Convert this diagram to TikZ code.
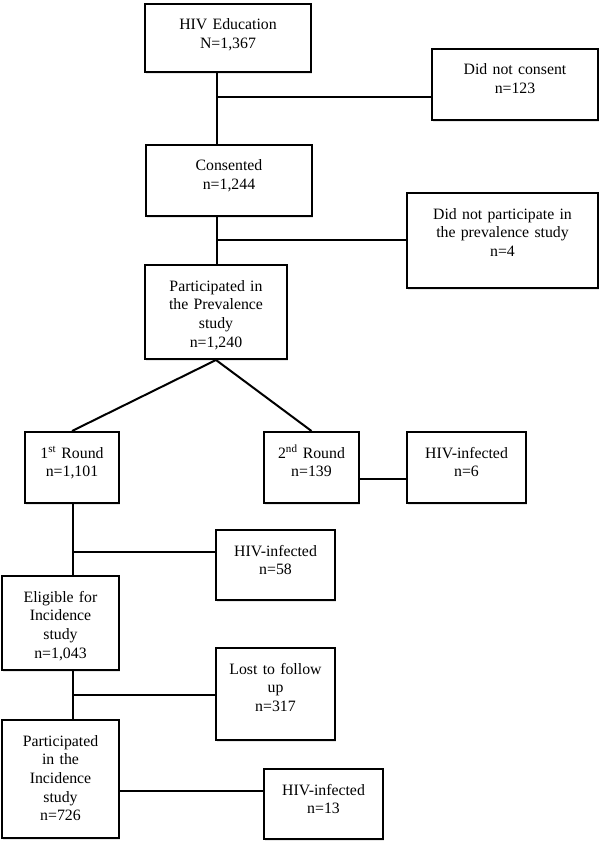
\documentclass[tikz,border=0pt]{standalone}
\usepackage{fontspec}
\setmainfont{Liberation Serif}
\usetikzlibrary{shadows}

\begin{document}
\begin{tikzpicture}[
  x=1pt, y=-1pt,
  box/.style={draw, fill=white, line width=2pt, inner sep=0pt, anchor=north, align=center,
    text height=26pt, font=\fontsize{15.8}{18.7}\selectfont,
    drop shadow={shadow xshift=0.8pt, shadow yshift=-1.6pt, opacity=0.2}},
  link/.style={line width=2pt}
]
  \useasboundingbox (0,0) rectangle (600,842);

  % Prevalence part
  \node[box, text width=166pt, text depth=42pt] (edu) at (228,3) {HIV Education\\N=1,367};
  \node[box, text width=166pt, text depth=45pt] (nocons) at (515,48) {Did not consent\\n=123};
  \node[box, text width=166pt, text depth=45pt] (cons) at (229,144) {Consented\\n=1,244};
  \node[box, text width=191pt, text depth=69pt] (nopart) at (502.5,192) {Did not participate in\\the prevalence study\\n=4};
  \node[box, text width=142pt, text depth=68pt] (prev) at (216,264) {Participated in\\the Prevalence\\study\\n=1,240};

  \coordinate (t1) at (217,97);
  \coordinate (t2) at (217,240);
  \draw[link] (edu.south -| t1) -- (cons.north -| t1);
  \draw[link] (t1) -- (t1 -| nocons.west);
  \draw[link] (cons.south -| t2) -- (prev.north -| t2);
  \draw[link] (t2) -- (t2 -| nopart.west);

  % Rounds
  \node[box, text width=94pt, text depth=45pt] (r1) at (72,431) {1\textsuperscript{st} Round\\n=1,101};
  \node[box, text width=95pt, text depth=45pt] (r2) at (311.5,431) {2\textsuperscript{nd} Round\\n=139};
  \node[box, text width=119pt, text depth=45pt] (inf6) at (466.5,431) {HIV-infected\\n=6};

  \coordinate (c6) at (385,479);
  \draw[link] (prev.south) -- (r1.north);
  \draw[link] (prev.south) -- (r2.north);
  \draw[link] (c6 -| r2.east) -- (c6 -| inf6.west);

  % Incidence part
  \node[box, text width=119pt, text depth=44pt] (inf58) at (275.5,529) {HIV-infected\\n=58};
  \node[box, text width=117pt, text depth=68pt] (elig) at (60.5,575) {Eligible for\\Incidence\\study\\n=1,043};
  \node[box, text width=119pt, text depth=66pt] (lost) at (275.5,647) {Lost to follow\\up\\n=317};
  \node[box, text width=117pt, text depth=92pt] (inc) at (60.5,719) {Participated\\in the\\Incidence\\study\\n=726};
  \node[box, text width=119pt, text depth=44pt] (inf13) at (323.5,768) {HIV-infected\\n=13};

  \coordinate (t3) at (73,552);
  \coordinate (t4) at (73,695);
  \coordinate (c13) at (190,791);
  \draw[link] (r1.south -| t3) -- (elig.north -| t3);
  \draw[link] (t3) -- (t3 -| inf58.west);
  \draw[link] (elig.south -| t4) -- (inc.north -| t4);
  \draw[link] (t4) -- (t4 -| lost.west);
  \draw[link] (c13 -| inc.east) -- (c13 -| inf13.west);
\end{tikzpicture}
\end{document}
